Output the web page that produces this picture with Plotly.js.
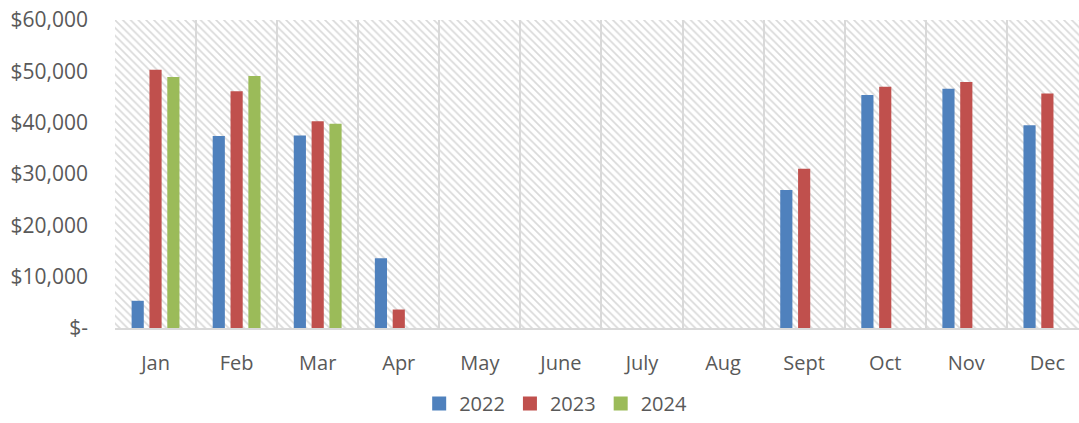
<!DOCTYPE html>
<html>
<head>
<meta charset="utf-8">
<script src="https://cdn.plot.ly/plotly-3.0.1.min.js"></script>
<style>html,body{margin:0;padding:0;background:#fff;}#chart{width:1079px;height:423px;}</style>
</head>
<body>
<div id="chart"></div>
<script>
const months = ["Jan","Feb","Mar","Apr","May","June","July","Aug","Sept","Oct","Nov","Dec"];
const sales2022 = [5300, 37400, 37500, 13600, null, null, null, null, 26900, 45400, 46600, 39500];
const sales2023 = [50300, 46100, 40300, 3600, null, null, null, null, 31000, 47000, 47900, 45700];
const sales2024 = [48900, 49100, 39800, null, null, null, null, null, null, null, null, null];
const yTickVals = [0, 10000, 20000, 30000, 40000, 50000, 60000];
const yTickText = ["$-", "$10,000", "$20,000", "$30,000", "$40,000", "$50,000", "$60,000"];
const yMax = 60000;
const seriesNames = ["2022", "2023", "2024"];
const seriesColors = ["#4F81BD", "#C0504D", "#9BBB59"];

const textColor = "#595959";
const fontFam = "'Open Sans', 'Liberation Sans', sans-serif";

const bg = {
  type: "bar", x: months, y: months.map(() => yMax),
  width: 1, offset: -0.5,
  marker: { color: "#d9d9d9", line: { width: 0 },
            pattern: { shape: "\\", size: 5.5, solidity: 0.3, fillmode: "replace" } },
  showlegend: false, hoverinfo: "skip"
};
const mk = (i, y, off) => ({
  type: "bar", name: seriesNames[i], x: months, y: y, width: 0.15, offset: off,
  marker: { color: seriesColors[i], line: { width: 0 } }, showlegend: false
});
const lg = (i) => ({
  type: "scatter", mode: "markers", name: seriesNames[i], x: [null], y: [null],
  marker: { symbol: "square", size: 14, color: seriesColors[i] }
});
const data = [
  bg,
  mk(0, sales2022, -0.295),
  mk(1, sales2023, -0.075),
  mk(2, sales2024, 0.145),
  lg(0), lg(1), lg(2)
];
const layout = {
  width: 1079, height: 423,
  margin: { l: 115, r: 0, t: 20, b: 95 },
  paper_bgcolor: "#fff", plot_bgcolor: "#fff",
  barmode: "overlay",
  font: { family: fontFam, color: textColor },
  xaxis: {
    type: "category", categoryarray: months, categoryorder: "array",
    range: [-0.5, 11.39], tickson: "boundaries",
    showgrid: true, gridcolor: "#d9d9d9", gridwidth: 2,
    showline: true, linecolor: "#d9d9d9", linewidth: 2,
    ticks: "", ticklabelstandoff: 16,
    tickfont: { size: 20, color: textColor, family: fontFam },
    fixedrange: true
  },
  yaxis: {
    range: [0, yMax], tickvals: yTickVals, ticktext: yTickText,
    showgrid: false, zeroline: false, showline: false,
    ticks: "", ticklabelstandoff: 26,
    tickfont: { size: 21, color: textColor, family: fontFam },
    fixedrange: true
  },
  legend: {
    orientation: "h", xref: "container", yref: "container",
    x: 0.515, xanchor: "center", y: -0.017, yanchor: "bottom",
    font: { size: 20, color: textColor, family: fontFam },
    traceorder: "normal", itemwidth: 30, tracegroupgap: 0
  },
  showlegend: true
};
Plotly.newPlot("chart", data, layout, { displayModeBar: false, staticPlot: true });
</script>
</body>
</html>
